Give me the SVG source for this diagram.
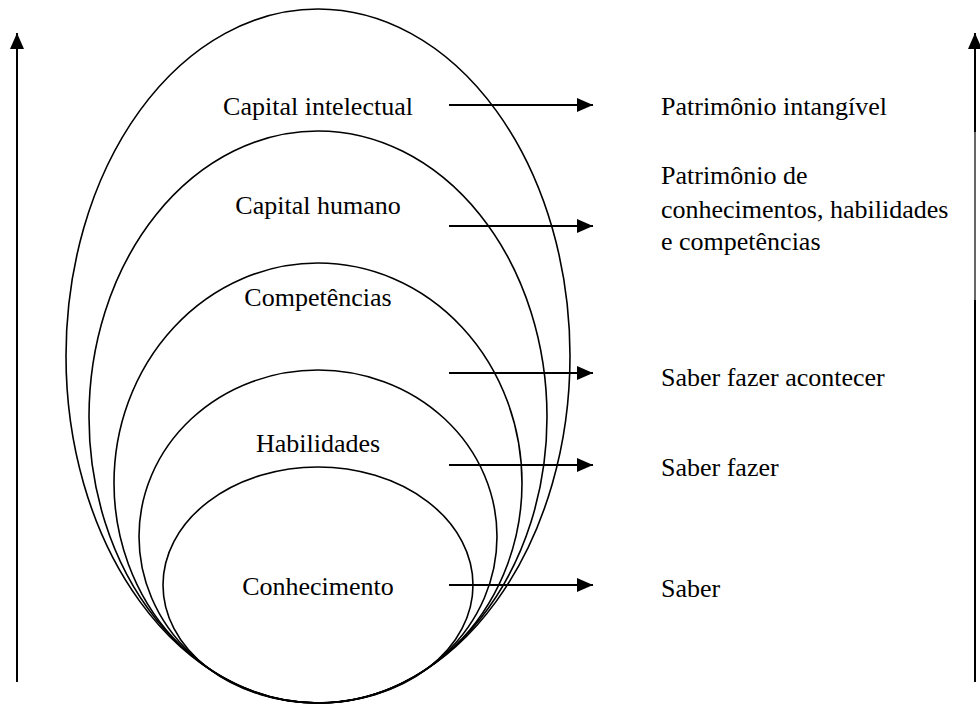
<svg xmlns="http://www.w3.org/2000/svg" width="980" height="704" viewBox="0 0 980 704" font-family="'Liberation Serif', 'Times New Roman', 'DejaVu Serif', serif" font-size="26">
<style>
.e{fill:none;stroke:#000;stroke-width:1.6}
.a{stroke:#000;stroke-width:2;fill:none}
.t{font-family:'Liberation Serif','Times New Roman','DejaVu Serif',serif;font-size:26px;fill:#000}
.c{text-anchor:middle}
</style>
<defs>
<marker id="ah" viewBox="0 0 16 14" refX="16" refY="7" markerWidth="16" markerHeight="14" markerUnits="userSpaceOnUse" orient="auto">
<path d="M0,0 L16,7 L0,14 Z" fill="#000"/>
</marker>
</defs>
<rect width="980" height="704" fill="#fff"/>
<g id="capital-intelectual"><ellipse class="e" cx="318" cy="356" rx="252" ry="347"/><text class="t c" x="318" y="115">Capital intelectual</text></g>
<g id="capital-humano"><ellipse class="e" cx="318" cy="417" rx="229" ry="286"/><text class="t c" x="318" y="214">Capital humano</text></g>
<g id="competencias"><ellipse class="e" cx="318" cy="483" rx="204" ry="220"/><text class="t c" x="318" y="306">Competências</text></g>
<g id="habilidades"><ellipse class="e" cx="318" cy="536.5" rx="179" ry="166.5"/><text class="t c" x="318" y="452">Habilidades</text></g>
<g id="conhecimento"><ellipse class="e" cx="318" cy="585" rx="155" ry="118"/><text class="t c" x="318" y="595">Conhecimento</text></g>
<g id="patrimonio-intangivel"><text class="t" x="661" y="115">Patrimônio intangível</text></g>
<g id="patrimonio-conhecimentos"><text class="t" x="661" y="184">Patrimônio de</text><text class="t" x="661" y="218">conhecimentos, habilidades</text><text class="t" x="661" y="250">e competências</text></g>
<g id="saber-fazer-acontecer"><text class="t" x="661" y="386">Saber fazer acontecer</text></g>
<g id="saber-fazer"><text class="t" x="661" y="476">Saber fazer</text></g>
<g id="saber"><text class="t" x="661" y="597">Saber</text></g>
<g id="connectors">
<line class="a" x1="449" y1="105" x2="593" y2="105" marker-end="url(#ah)"/>
<line class="a" x1="449" y1="226" x2="593" y2="226" marker-end="url(#ah)"/>
<line class="a" x1="449" y1="373" x2="593" y2="373" marker-end="url(#ah)"/>
<line class="a" x1="449" y1="465" x2="593" y2="465" marker-end="url(#ah)"/>
<line class="a" x1="449" y1="585" x2="593" y2="585" marker-end="url(#ah)"/>
<line class="a" x1="17" y1="682" x2="17" y2="33" marker-end="url(#ah)"/>
<line class="a" x1="975" y1="682" x2="975" y2="300"/>
<line x1="975" y1="300" x2="975" y2="132" stroke="#000" stroke-width="1.2"/>
<line class="a" x1="975" y1="132" x2="975" y2="33" marker-end="url(#ah)"/>
</g>
</svg>
